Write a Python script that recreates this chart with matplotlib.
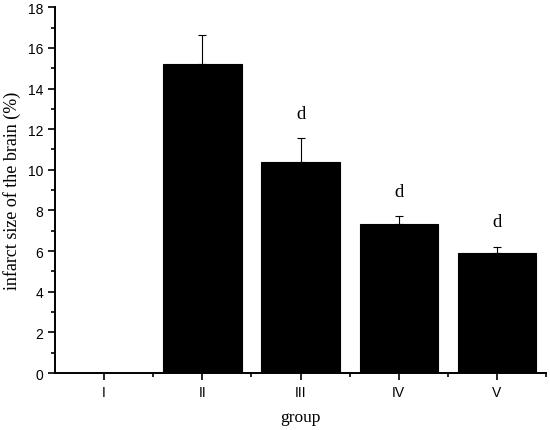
import numpy as np
import matplotlib
matplotlib.use('Agg')
import matplotlib.pyplot as plt
from matplotlib.ticker import MultipleLocator

groups = ['I', 'II', 'III', 'IV', 'V']
infarct = [0.0, 15.2, 10.38, 7.34, 5.9]
errors = [0.0, 1.45, 1.2, 0.41, 0.3]
marks = ['', '', 'd', 'd', 'd']
mark_y = [0, 0, 12.75, 8.93, 7.45]

fig = plt.figure(figsize=(5.5, 4.31), dpi=100)
ax = fig.add_axes([0.1, 0.132, 0.893, 0.849])

x = np.arange(1, len(groups) + 1)
ax.bar(x, infarct, width=0.8, color='black', edgecolor='black', linewidth=0.8)
ax.errorbar(x[1:], infarct[1:], yerr=[np.zeros(4), errors[1:]], fmt='none',
            ecolor='black', elinewidth=0.8, capsize=3, capthick=0.8)

for xi, m, yy in zip(x, marks, mark_y):
    if m:
        ax.text(xi, yy, m, ha='center', va='center', fontsize=13.5, family='Liberation Serif')

ax.set_xlim(0.5, 5.5)
ax.set_ylim(0, 18)
ax.set_xticks(x)
ax.set_xticklabels(groups, family='Liberation Sans', fontsize=10)
ax.set_xticks(np.arange(1.5, 6.0, 1.0), minor=True)
ax.yaxis.set_major_locator(MultipleLocator(2))
ax.yaxis.set_minor_locator(MultipleLocator(1))
for lab in ax.get_yticklabels():
    lab.set_family('Liberation Sans')
    lab.set_fontsize(10)

ax.tick_params(which='major', direction='out', length=5, width=1.2)
ax.tick_params(which='minor', direction='out', length=3, width=1.2)
ax.spines['top'].set_visible(False)
ax.spines['right'].set_visible(False)
ax.spines['left'].set_linewidth(1.4)
ax.spines['bottom'].set_linewidth(1.4)

ax.set_xlabel('group', family='Liberation Serif', fontsize=12.5, labelpad=7)
ax.set_ylabel('infarct size of the brain (%)', family='Liberation Serif', fontsize=13, labelpad=5)

fig.savefig('out.png', dpi=100)
